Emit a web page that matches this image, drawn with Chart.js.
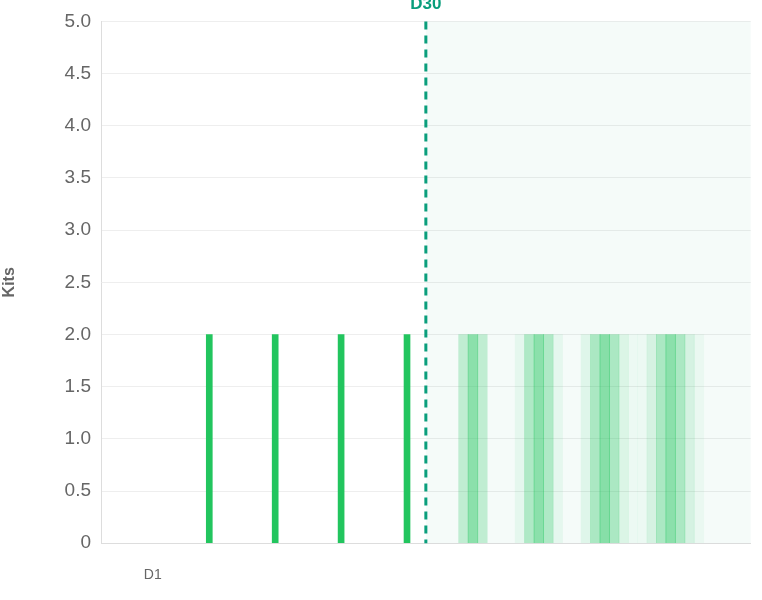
<!DOCTYPE html><html><head><script src="https://cdn.jsdelivr.net/npm/chart.js@4"></script>
<style>html,body{margin:0;background:#fff}#w{width:762px;height:600px}</style></head><body><div id="w"><canvas id="c"></canvas></div>
<script>
const firstDay=-4, lastDay=64;
const actualDays=[7,14,21,28];
const actualKits=[2,2,2,2];
const forecastDays=[34,35,36, 40,41,42,43,44, 47,48,49,50,51,52, 53,54,55,56,57,58,59];
const forecastKits=[2,2,2, 2,2,2,2,2, 2,2,2,2,2,2, 2,2,2,2,2,2,2];
const forecastAlpha=[.25,.5,.25, .07,.33,.5,.33,.07, .1,.35,.52,.35,.12,.04, .04,.15,.35,.5,.35,.15,.05];
const markerDay=30, markerLabel='D30';
const shownTicks=['D1'];
const days=[];for(let d=firstDay;d<=lastDay;d++)days.push(d);
const labels=days.map(d=>'D'+d);
const actualData=days.map(d=>{const i=actualDays.indexOf(d);return i<0?null:actualKits[i];});
const fcData=days.map(d=>{const i=forecastDays.indexOf(d);return i<0?null:forecastKits[i];});
const fcColors=days.map(d=>{const i=forecastDays.indexOf(d);return `rgba(34,197,94,${i<0?0:forecastAlpha[i]})`;});
const bgPlugin={id:'bg',beforeDatasetsDraw(ch){const{ctx,chartArea:a,scales:{x}}=ch;const px=x.getPixelForValue(days.indexOf(markerDay));ctx.save();ctx.fillStyle='rgba(20,160,110,0.045)';ctx.fillRect(px,a.top,a.right-px,a.bottom-a.top);ctx.restore();},
afterDatasetsDraw(ch){const{ctx,chartArea:a,scales:{x}}=ch;const px=x.getPixelForValue(days.indexOf(markerDay));ctx.save();ctx.strokeStyle='#0a9e7c';ctx.lineWidth=3;ctx.setLineDash([8,6]);ctx.beginPath();ctx.moveTo(px,a.top);ctx.lineTo(px,a.bottom);ctx.stroke();ctx.setLineDash([]);ctx.fillStyle='#0a9e7c';ctx.font='bold 17px Helvetica, Arial, sans-serif';ctx.textAlign='center';ctx.textBaseline='bottom';ctx.fillText(markerLabel,px,a.top-9);ctx.restore();}};
new Chart(document.getElementById('c'),{type:'bar',
data:{labels,datasets:[
{data:actualData,backgroundColor:'#22c55e',barThickness:6},
{data:fcData,backgroundColor:fcColors,barThickness:9.7}
]},
options:{responsive:true,maintainAspectRatio:false,animation:false,
layout:{padding:{top:19,right:0,left:0,bottom:0}},
plugins:{legend:{display:false},tooltip:{enabled:false}},
datasets:{bar:{grouped:false}},
scales:{
x:{grid:{display:false},border:{color:'#ddd'},
ticks:{autoSkip:false,maxRotation:0,padding:16,color:'#666',font:{size:14,family:'Helvetica, Arial, sans-serif'},callback:(v,i)=>shownTicks.includes(labels[i])?labels[i]:''}},
y:{min:0,max:5,afterFit(s){s.width=101;},ticks:{stepSize:0.5,color:'#666',padding:10,font:{size:19,family:'Helvetica, Arial, sans-serif'},callback:v=>v===0?'0':v.toFixed(1)},
grid:{color:'#eee',drawTicks:false},border:{color:'#ddd'},
title:{display:true,text:'Kits',color:'#666',padding:{top:0,bottom:0},font:{size:16,weight:'bold',family:'Helvetica, Arial, sans-serif'}}}
}},plugins:[bgPlugin]});
</script></body></html>
